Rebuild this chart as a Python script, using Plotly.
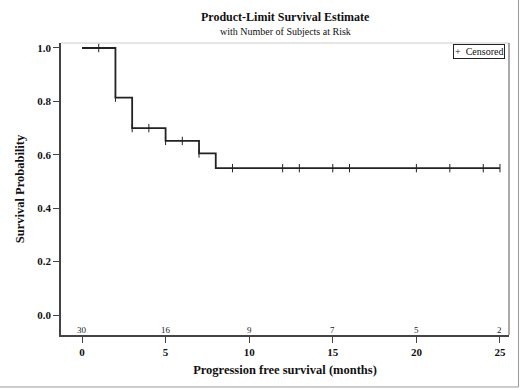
import plotly.graph_objects as go

# Kaplan-Meier step data
step_times = [0, 2, 3, 5, 7, 8, 25]
step_surv = [1.0, 0.814, 0.70, 0.652, 0.605, 0.55, 0.55]

# censoring times
censor_times = [1, 2, 3, 4, 5, 6, 7, 9, 12, 13, 15, 16, 20, 22, 24, 25]

# number at risk
risk_times = [0, 5, 10, 15, 20, 25]
risk_counts = [30, 16, 9, 7, 5, 2]

x_ticks = [0, 5, 10, 15, 20, 25]
y_ticks = [0.0, 0.2, 0.4, 0.6, 0.8, 1.0]


def surv_at(t):
    s = step_surv[0]
    for tt, ss in zip(step_times, step_surv):
        if tt <= t:
            s = ss
    return s


censor_surv = [surv_at(t) for t in censor_times]

SERIF = "Liberation Serif, Times New Roman, serif"
INK = "#222222"

fig = go.Figure()
fig.add_trace(go.Scatter(
    x=step_times, y=step_surv, mode="lines", line_shape="hv",
    line=dict(color=INK, width=1.8), showlegend=False, hoverinfo="skip"))
fig.add_trace(go.Scatter(
    x=censor_times, y=censor_surv, mode="markers", name="Censored",
    marker=dict(symbol="line-ns", size=6, line=dict(color=INK, width=1)),
    showlegend=False))

for t, n in zip(risk_times, risk_counts):
    fig.add_annotation(x=t, y=-0.055, xref="x", yref="y", text=str(n),
                       showarrow=False, font=dict(family=SERIF, size=9, color=INK))

fig.add_annotation(x=0.5, y=1.0, xref="paper", yref="paper", yshift=26, yanchor="middle",
                   text="<b>Product-Limit Survival Estimate</b>", showarrow=False,
                   font=dict(family=SERIF, size=12, color="#111"))
fig.add_annotation(x=0.5, y=1.0, xref="paper", yref="paper", yshift=12, yanchor="middle",
                   text="with Number of Subjects at Risk", showarrow=False,
                   font=dict(family=SERIF, size=10, color="#111"))

# legend box
fig.add_annotation(x=0.991, y=0.995, xref="paper", yref="paper", xanchor="right", yanchor="top",
                   text="+  Censored", showarrow=False, bordercolor=INK, borderwidth=1,
                   borderpad=1, bgcolor="white",
                   font=dict(family=SERIF, size=10, color="#111"))

shapes = [
    dict(type="line", xref="paper", yref="paper", x0=0, x1=1, y0=1, y1=1,
         line=dict(color="#cccccc", width=1)),
    dict(type="line", xref="paper", yref="paper", x0=1, x1=1, y0=0, y1=1,
         line=dict(color="#555555", width=1)),
    dict(type="line", xref="paper", yref="paper", x0=-0.2, x1=1.0212, y0=-0.178, y1=-0.178,
         line=dict(color="#999999", width=1)),
    dict(type="line", xref="paper", yref="paper", x0=1.0212, x1=1.0212, y0=-0.178, y1=1.2,
         line=dict(color="#999999", width=1)),
]

fig.update_layout(
    width=520, height=390,
    margin=dict(l=61, r=11, t=43, b=55),
    paper_bgcolor="white", plot_bgcolor="white",
    font=dict(family=SERIF, color="#111"),
    shapes=shapes,
    showlegend=False,
    xaxis=dict(range=[-1.256, 25.54], tickvals=x_ticks, ticktext=[f"<b>{v}</b>" for v in x_ticks],
               showgrid=False, zeroline=False, showline=True, linecolor="#444", linewidth=1.5,
               ticks="outside", ticklen=6, tickcolor="#444",
               tickfont=dict(family=SERIF, size=11),
               title=dict(text="<b>Progression free survival (months)</b>",
                          font=dict(family=SERIF, size=12.5), standoff=8)),
    yaxis=dict(range=[-0.0749, 1.0187], tickvals=y_ticks,
               ticktext=[f"<b>{v:.1f}</b>" for v in y_ticks],
               showgrid=False, zeroline=False, showline=True, linecolor="#444", linewidth=1.5,
               ticks="outside", ticklen=6, tickcolor="#444",
               tickfont=dict(family=SERIF, size=11),
               title=dict(text="<b>Survival Probability</b>",
                          font=dict(family=SERIF, size=12.5), standoff=10)),
)

fig.write_html("out.html", config={"displayModeBar": False},
               post_script="document.body.style.margin='0';")
